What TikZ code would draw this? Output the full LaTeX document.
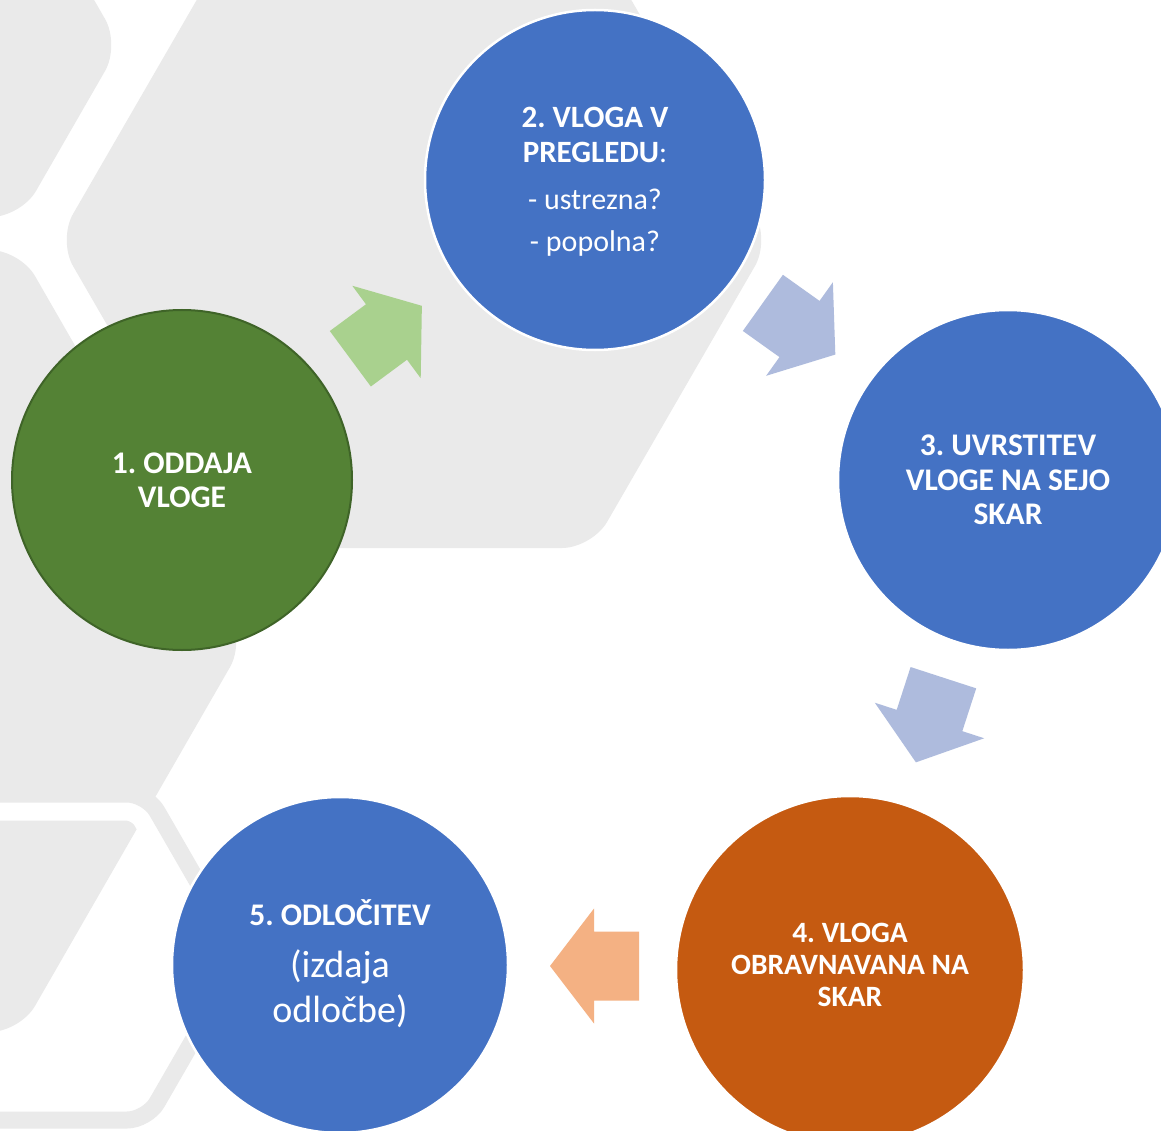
\documentclass[tikz,border=0pt]{standalone}
\usepackage{fontspec}
\setmainfont{Carlito}
\definecolor{cblue}{HTML}{4472C4}
\definecolor{cgreen}{HTML}{548235}
\definecolor{cgreenb}{HTML}{3F6428}
\definecolor{corange}{HTML}{C55A11}
\definecolor{agreen}{HTML}{A9D18E}
\definecolor{ablue}{HTML}{AEBBDD}
\definecolor{aorange}{HTML}{F4B183}
\definecolor{hexgray}{HTML}{EAEAEA}
\tikzset{
  stepcircle/.style={circle, minimum size=340pt, inner sep=0pt, draw=white, line width=2.5pt},
  steptext/.style={text=white, align=center, inner sep=0pt, font=\fontsize{29}{35}\selectfont},
  hexfill/.style={fill=hexgray, rounded corners=30pt},
}
\newcommand{\blockarrow}[4]{%
  \begin{scope}[shift={(#1,#2)}, rotate=#3]
    \fill[#4] (-45,-34.5) -- (0,-34.5) -- (0,-57.5) -- (44,0) -- (0,57.5) -- (0,34.5) -- (-45,34.5) -- cycle;
  \end{scope}}
\newcommand{\bsz}[1]{\fontsize{#1}{35}\selectfont\bfseries}
\begin{document}
\frenchspacing
\begin{tikzpicture}[x=1pt, y=-1pt]
\useasboundingbox (0,0) rectangle (1161,1131);
\fill[white] (0,0) rectangle (1161,1131);
\begin{scope}
\clip (0,0) rectangle (1161,1131);
% background hexagons
\fill[hexfill] (770,240) -- (592,548) -- (236,548) -- (58,240) -- (236,-68) -- (592,-68) -- cycle;
\fill[hexfill] (120,45) -- (21,217) -- (-177,217) -- (-276,45) -- (-177,-127) -- (21,-127) -- cycle;
\fill[hexfill] (245,641) -- (20,1032) -- (-431,1032) -- (-657,641) -- (-431,250) -- (20,250) -- cycle;
\begin{scope}
  \clip[rounded corners=20pt] (241,957) -- (147,1120) -- (-41,1120) -- (-135,957) -- (-41,794) -- (147,794) -- cycle;
  \draw[white, line width=53pt, rounded corners=20pt] (241,957) -- (147,1120) -- (-41,1120) -- (-135,957) -- (-41,794) -- (147,794) -- cycle;
\end{scope}
\draw[hexgray, line width=17pt, rounded corners=20pt] (241,957) -- (147,1120) -- (-41,1120) -- (-135,957) -- (-41,794) -- (147,794) -- cycle;

% arrows
\blockarrow{386.5}{332}{36.5}{agreen}
\blockarrow{799.5}{329}{-35.5}{ablue}
\blockarrow{929.5}{720.5}{-108}{ablue}
\blockarrow{594}{966}{180}{aorange}

% circles
\node[stepcircle, fill=cgreen, draw=cgreenb, line width=2pt] (c1) at (182,480) {};
\node[stepcircle, fill=cblue] (c2) at (595,180) {};
\node[stepcircle, fill=cblue] (c3) at (1008,480) {};
\node[stepcircle, fill=corange, minimum size=348pt] (c4) at (850,970) {};
\node[stepcircle, fill=cblue, minimum size=336pt] (c5) at (340,965) {};
\end{scope}

% texts
\node[steptext, font=\fontsize{31.5}{34}\selectfont\bfseries] (t1) at (182,480) {1. ODDAJA\\VLOGE};
\node[steptext, font=\fontsize{30}{35}\selectfont] (t2) at (595,182) {{\bsz{31}2. VLOGA V}\\{\bsz{31}PREGLEDU}:\\[12pt]- ustrezna?\\[7pt]- popolna?};
\node[steptext, font=\fontsize{31.5}{34.5}\selectfont\bfseries] (t3) at (1008,480) {3. UVRSTITEV\\VLOGE NA SEJO\\SKAR};
\node[steptext, font=\fontsize{29.5}{32}\selectfont\bfseries] (t4) at (850,965) {4. VLOGA\\OBRAVNAVANA NA\\SKAR};
\node[steptext, font=\fontsize{38}{45}\selectfont] (t5) at (340,964) {{\fontsize{31.5}{45}\selectfont\bfseries 5. ODLOČITEV}\\[7pt](izdaja\\odločbe)};
\end{tikzpicture}
\end{document}
